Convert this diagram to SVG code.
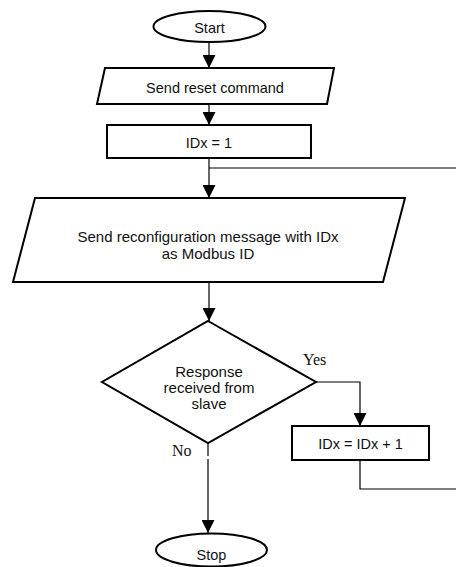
<svg xmlns="http://www.w3.org/2000/svg" width="456" height="567" viewBox="0 0 456 567">
<defs>
<marker id="arr" viewBox="0 0 13 13" refX="13" refY="6.5" markerWidth="13" markerHeight="13" markerUnits="userSpaceOnUse" orient="auto">
<path d="M0,0 L13,6.5 L0,13 Z" fill="#000"/>
</marker>
<style>
.shape{fill:#fff;stroke:#000;stroke-width:2}
.conn{fill:none;stroke:#000;stroke-width:1.2}
.t{font-family:"Liberation Sans",Arial,sans-serif;font-size:14.5px;fill:#111;text-anchor:middle}
.tb{font-family:"Liberation Sans",Arial,sans-serif;font-size:15px;fill:#111;text-anchor:middle}
.lbl{font-family:"Liberation Serif","Times New Roman",serif;font-size:16px;fill:#111}
</style>
</defs>
<rect width="456" height="567" fill="#fff"/>
<g id="connectors">
<path class="conn" d="M209,42 L209,68" marker-end="url(#arr)"/>
<path class="conn" d="M209,104 L209,125" marker-end="url(#arr)"/>
<path class="conn" d="M209,158 L209,198" marker-end="url(#arr)"/>
<path class="conn" d="M209,168 L456,168"/>
<path class="conn" d="M209,283 L209,321" marker-end="url(#arr)"/>
<path class="conn" d="M316,382 L360,382 L360,426" marker-end="url(#arr)"/>
<path class="conn" d="M360,460 L360,489 L456,489"/>
<path class="conn" d="M208,443 L208,456"/>
<path class="conn" d="M208,459 L208,533" marker-end="url(#arr)"/>
<text class="lbl" x="303" y="365">Yes</text>
<text class="lbl" x="172" y="456" font-size="15">No</text>
</g>
<g id="start">
<ellipse class="shape" cx="209.5" cy="26.5" rx="56" ry="15.5"/>
<text class="t" x="209.5" y="33">Start</text>
</g>
<g id="send-reset">
<polygon class="shape" points="105,68 334,68 327,104 97,104"/>
<text class="t" x="215" y="92.5">Send reset command</text>
</g>
<g id="idx-init">
<rect class="shape" x="107" y="125" width="204" height="33"/>
<text class="t" x="209" y="148">IDx = 1</text>
</g>
<g id="send-reconfig">
<polygon class="shape" points="35,198 405,198 383,282 13,282"/>
<text class="tb" x="208" y="242">Send reconfiguration message with IDx</text>
<text class="tb" x="208" y="259">as Modbus ID</text>
</g>
<g id="decision">
<polygon class="shape" points="208,321 316,382 208,443 102,382"/>
<text class="tb" x="209" y="377">Response</text>
<text class="tb" x="209" y="393">received from</text>
<text class="tb" x="209" y="409">slave</text>
</g>
<g id="idx-inc">
<rect class="shape" x="292" y="426" width="137" height="34"/>
<text class="t" x="360.5" y="449">IDx = IDx + 1</text>
</g>
<g id="stop">
<ellipse class="shape" cx="211.5" cy="550" rx="55.5" ry="16.5"/>
<text class="t" x="211.5" y="560">Stop</text>
</g>
</svg>
